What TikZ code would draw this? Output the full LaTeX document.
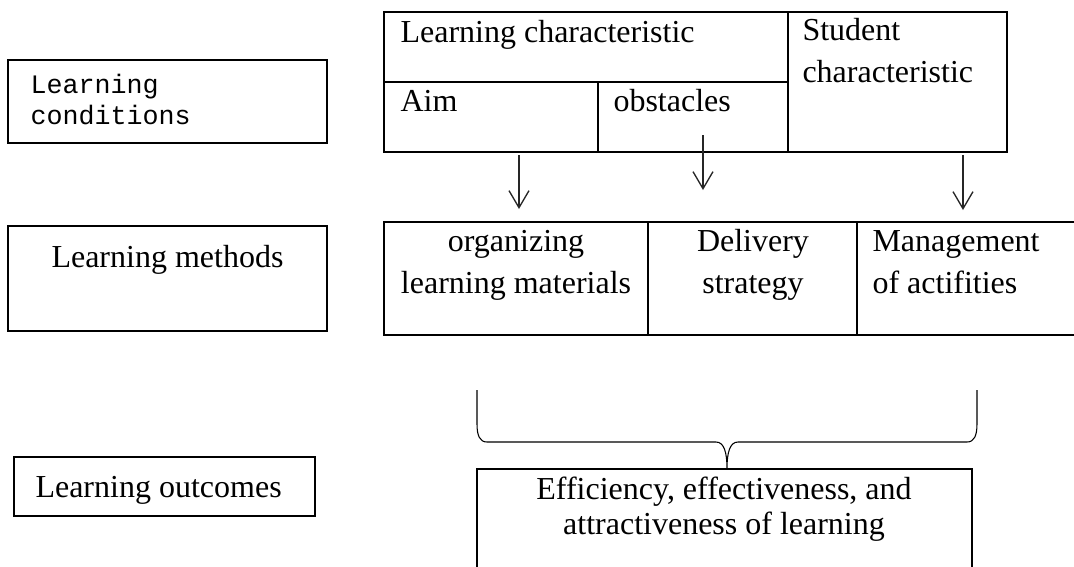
\documentclass[tikz,border=0pt]{standalone}
\usepackage{fontspec}
\setmainfont{Liberation Serif}
\newfontfamily\monofont{Liberation Mono}
\usetikzlibrary{arrows.meta}
\begin{document}
\begin{tikzpicture}[x=0.375pt,y=-0.375pt,
  thickline/.style={line width=0.75pt},
  thinline/.style={line width=0.4pt},
  arr/.style={line width=0.5pt, draw=black!85, -{Straight Barb[length=6.4pt,width=7.5pt,line width=0.5pt]}},
  pal/.style={inner sep=0pt, font=\fontsize{12pt}{15.7pt}\selectfont},
  tms/.style={inner sep=0pt, font=\fontsize{12pt}{12.8pt}\selectfont},
  mono/.style={inner sep=0pt, font=\monofont\fontsize{10pt}{11.3pt}\selectfont}]
\useasboundingbox (0,0) rectangle (1074,566);
\clip (0,0) rectangle (1074,566);
% left boxes
\coordinate (condNW) at (8,60);   \coordinate (condSE) at (327,143);
\coordinate (methNW) at (8,226);  \coordinate (methSE) at (327,331);
\coordinate (outNW) at (14,457);  \coordinate (outSE) at (315,516);
\draw[thickline] (condNW) rectangle (condSE);
\draw[thickline] (methNW) rectangle (methSE);
\draw[thickline] (outNW) rectangle (outSE);
\node[mono, anchor=base west, align=left] (cond) at (30,124) {Learning\\conditions};
\node[tms, anchor=base] (meth) at (167.5,267) {Learning methods};
\node[tms, anchor=base west] (out) at (35,497) {Learning outcomes};
% top table
\coordinate (tNW) at (384,12); \coordinate (tSE) at (1007,152);
\draw[thinline] (tNW) rectangle (tSE);
\draw[thinline] (384,82) -- (788,82);
\draw[thinline] (788,12) -- (788,152);
\draw[thinline] (598,82) -- (598,152);
\node[pal, anchor=base west] (lchar) at (400,42) {Learning characteristic};
\node[pal, anchor=base west] (aim) at (400,111) {Aim};
\node[pal, anchor=base west] (obst) at (613,111) {obstacles};
\node[pal, anchor=base west, align=left] (stud) at (802,82) {Student\\characteristic};
% methods table (runs past the right edge)
\coordinate (mNW) at (384,222); \coordinate (mSE) at (1090,335);
\draw[thinline] (mNW) rectangle (mSE);
\draw[thinline] (648,222) -- (648,335);
\draw[thinline] (857,222) -- (857,335);
\node[pal, anchor=base, align=center] (org) at (516,293) {organizing\\learning materials};
\node[pal, anchor=base, align=center] (deliv) at (753,293) {Delivery\\strategy};
\node[pal, anchor=base west, align=left] (manag) at (872,293) {Management\\of actifities};
% arrows
\coordinate (a1s) at (519,155); \coordinate (a1e) at (519,209);
\coordinate (a2s) at (703,135); \coordinate (a2e) at (703,190);
\coordinate (a3s) at (963,155); \coordinate (a3e) at (963,210);
\draw[arr] (a1s) -- (a1e);
\draw[arr] (a2s) -- (a2e);
\draw[arr] (a3s) -- (a3e);
% brace
\draw[thinline] (477,390) -- (477,424) .. controls (477,436) and (480,442) .. (487,442)
  -- (716,442) .. controls (724,442) and (727,452) .. (727,469)
  .. controls (727,452) and (730,442) .. (738,442)
  -- (967,442) .. controls (974,442) and (977,436) .. (977,424) -- (977,390);
% outcome box
\coordinate (eNW) at (477,469); \coordinate (eSE) at (972,600);
\draw[thickline] (eNW) rectangle (eSE);
\node[tms, anchor=base, align=center] (eff) at (724,534) {Efficiency, effectiveness, and\\attractiveness of learning};
\end{tikzpicture}
\end{document}
